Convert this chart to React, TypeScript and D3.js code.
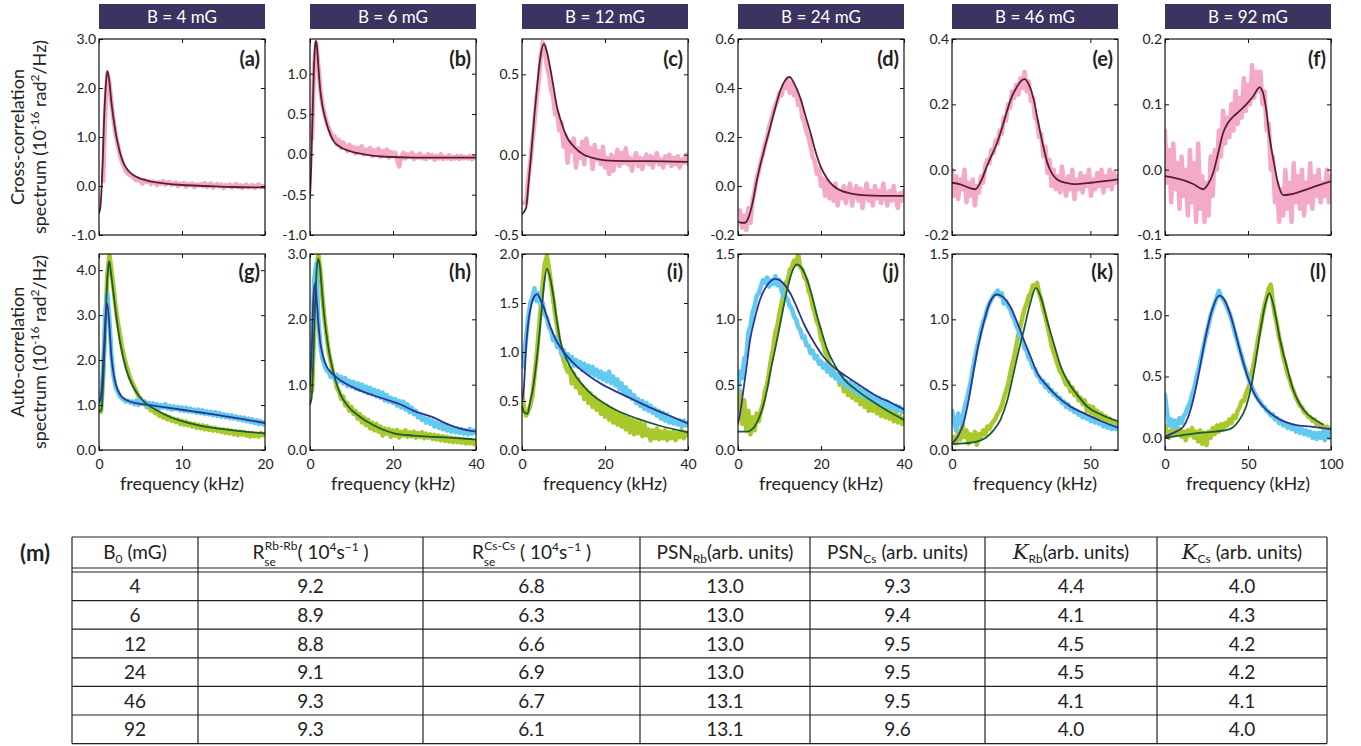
import React, { useEffect, useRef } from 'react';
import * as d3 from 'd3';

// ---- figure data ----
const fieldLabels = ['B = 4 mG', 'B = 6 mG', 'B = 12 mG', 'B = 24 mG', 'B = 46 mG', 'B = 92 mG'];
const crossLetters = ['(a)', '(b)', '(c)', '(d)', '(e)', '(f)'];
const autoLetters = ['(g)', '(h)', '(i)', '(j)', '(k)', '(l)'];
const freqMax = [20, 40, 40, 40, 60, 100];
const freqTicks = [[0, 10, 20], [0, 20, 40], [0, 20, 40], [0, 20, 40], [0, 50], [0, 50, 100]];

const crossDomains = [[-1, 3], [-1, 1.43], [-0.5, 0.72], [-0.2, 0.6], [-0.2, 0.4], [-0.1, 0.2]];
const crossTicks = [
  [-1, 0, 1, 2, 3],
  [-1, -0.5, 0, 0.5, 1],
  [-0.5, 0, 0.5],
  [-0.2, 0, 0.2, 0.4, 0.6],
  [-0.2, 0, 0.2, 0.4],
  [-0.1, 0, 0.1, 0.2],
];
const autoDomains = [[0, 4.36], [0, 3], [0, 2], [0, 1.5], [0, 1.5], [-0.1, 1.5]];
const autoTicks = [
  [0, 1, 2, 3, 4],
  [0, 1, 2, 3],
  [0, 0.5, 1, 1.5, 2],
  [0, 0.5, 1, 1.5],
  [0, 0.5, 1, 1.5],
  [0, 0.5, 1, 1.5],
];

// measured spectra: sampled from x0 in steps of dx
type Sampled = { x0: number; dx: number; ys: number[] };

const crossData: Sampled[] = [
  { x0: 0.5, dx: 0.25, ys: [0.1, 1.5, 2.3, 2.1, 1.7, 1.35, 1.05, 0.85, 0.65, 0.5, 0.4, 0.3, 0.25, 0.22, 0.2, 0.15, 0.12, 0.14, 0.1, 0.05, 0.12, 0.08, 0.1, 0.04, 0.09, 0.07, 0.02, 0.08, 0.05, 0.1, 0.03, 0.06, 0.08, 0.02, 0.05, 0.07, 0.0, 0.05, 0.03, 0.06, -0.01, 0.04, 0.02, 0.05, -0.02, 0.03, 0.01, 0.04, 0.0, 0.06, -0.02, 0.03, 0.05, -0.03, 0.02, 0.04, -0.01, 0.03, -0.04, 0.02, 0.0, 0.03, -0.03, 0.01, 0.04, -0.02, 0.02, -0.04, 0.01, 0.03, -0.03, 0.0, 0.02, -0.04, 0.01, 0.03, -0.02, 0.0, -0.03] },
  { x0: 0.5, dx: 0.5, ys: [0.2, 1.1, 1.38, 1.1, 0.8, 0.62, 0.5, 0.4, 0.33, 0.27, 0.2, 0.22, 0.12, 0.18, 0.08, 0.15, 0.1, 0.04, 0.12, 0.06, 0.09, 0.01, 0.08, 0.05, 0.1, 0.0, 0.06, 0.03, 0.08, -0.02, 0.05, 0.02, 0.07, -0.03, 0.04, 0.0, 0.06, -0.04, 0.03, -0.01, 0.02, -0.07, -0.15, -0.03, 0.02, -0.05, 0.0, -0.03, 0.02, -0.06, -0.01, -0.04, 0.01, -0.05, -0.02, -0.06, 0.0, -0.04, -0.01, -0.07, -0.02, -0.05, 0.0, -0.06, -0.03, -0.05, -0.01, -0.06, -0.03, -0.05, -0.02, -0.06, -0.02, -0.05, -0.03, -0.05, -0.02, -0.06, -0.03, -0.04] },
  { x0: 0.5, dx: 0.5, ys: [-0.3, -0.3, -0.15, -0.05, 0.08, 0.2, 0.35, 0.45, 0.6, 0.7, 0.66, 0.55, 0.5, 0.4, 0.36, 0.25, 0.26, 0.15, 0.2, 0.05, 0.12, -0.05, 0.08, 0.02, 0.1, -0.08, 0.04, -0.02, 0.08, -0.06, 0.1, 0.0, 0.04, -0.09, 0.06, -0.03, 0.02, -0.06, 0.05, -0.08, -0.02, -0.12, 0.0, -0.1, -0.04, 0.03, -0.07, 0.01, -0.05, 0.04, -0.06, -0.02, -0.1, -0.03, 0.01, -0.07, -0.02, -0.09, -0.03, 0.0, -0.06, -0.01, -0.08, -0.02, 0.01, -0.06, -0.03, -0.08, -0.01, -0.05, 0.0, -0.07, -0.02, -0.06, -0.01, -0.08, -0.03, -0.05, 0.0, -0.06] },
  { x0: 0.5, dx: 0.5, ys: [-0.1, -0.17, -0.12, -0.18, -0.09, -0.15, -0.06, -0.02, 0.03, 0.06, 0.1, 0.13, 0.17, 0.2, 0.24, 0.27, 0.3, 0.33, 0.35, 0.38, 0.37, 0.41, 0.4, 0.43, 0.38, 0.42, 0.37, 0.39, 0.33, 0.35, 0.28, 0.26, 0.22, 0.2, 0.16, 0.12, 0.1, 0.05, 0.07, 0.0, 0.03, -0.04, 0.02, -0.05, 0.0, -0.06, 0.01, -0.08, -0.02, -0.05, 0.0, -0.07, -0.02, 0.01, -0.08, -0.03, 0.0, -0.06, -0.01, -0.09, -0.03, 0.01, -0.06, -0.02, -0.08, 0.0, -0.05, -0.02, -0.07, 0.01, -0.04, -0.08, -0.02, -0.06, 0.0, -0.05, -0.09, -0.03, -0.06, -0.02] },
  { x0: 0, dx: 0.75, ys: [0.0, -0.08, -0.02, -0.09, -0.03, -0.06, 0.0, -0.1, -0.04, -0.08, -0.03, -0.11, -0.05, -0.07, -0.02, -0.04, 0.01, 0.03, 0.02, 0.06, 0.05, 0.09, 0.08, 0.12, 0.11, 0.16, 0.15, 0.2, 0.19, 0.24, 0.22, 0.26, 0.23, 0.28, 0.25, 0.3, 0.24, 0.27, 0.21, 0.22, 0.16, 0.15, 0.1, 0.11, 0.04, 0.07, -0.01, 0.03, -0.05, 0.0, -0.06, -0.02, -0.07, 0.01, -0.05, -0.08, -0.02, -0.06, 0.0, -0.09, -0.03, -0.06, -0.01, -0.07, -0.02, -0.05, 0.0, -0.08, -0.03, -0.06, -0.01, -0.05, 0.0, -0.07, -0.02, -0.05, 0.0, -0.06, -0.01, -0.04, -0.02] },
  { x0: 0, dx: 1.25, ys: [0.06, -0.02, 0.03, -0.05, 0.04, -0.03, 0.01, -0.06, 0.02, -0.04, 0.0, -0.07, 0.03, -0.05, 0.01, -0.08, 0.04, -0.06, -0.01, -0.08, -0.02, -0.07, 0.02, -0.04, 0.03, 0.0, 0.06, 0.02, 0.09, 0.04, 0.08, 0.05, 0.1, 0.06, 0.12, 0.07, 0.11, 0.08, 0.14, 0.09, 0.13, 0.1, 0.16, 0.11, 0.15, 0.12, 0.15, 0.1, 0.12, 0.06, 0.07, 0.0, 0.02, -0.05, -0.02, -0.08, -0.03, -0.07, 0.0, -0.06, -0.02, -0.08, 0.01, -0.05, -0.01, -0.06, 0.0, -0.07, -0.02, -0.05, 0.01, -0.06, -0.01, -0.04, 0.0, -0.05, -0.02, -0.04, 0.0, -0.05, -0.01] },
];

const crossFit: [number, number][][] = [
  [[0, -0.55], [0.15, -0.45], [0.3, -0.1], [0.45, 0.5], [0.6, 1.3], [0.8, 2.0], [1.0, 2.35], [1.2, 2.2], [1.5, 1.7], [2.0, 1.1], [2.5, 0.7], [3, 0.45], [3.5, 0.32], [4, 0.24], [5, 0.15], [6, 0.1], [8, 0.05], [10, 0.02], [13, 0], [16, -0.02], [20, -0.03]],
  [[0, -0.54], [0.3, -0.15], [0.6, 0.45], [0.9, 1.0], [1.2, 1.33], [1.45, 1.41], [1.7, 1.32], [2.0, 1.1], [2.4, 0.83], [3.0, 0.6], [3.6, 0.46], [4.5, 0.3], [5.6, 0.17], [7, 0.1], [9.6, 0.04], [13, 0.0], [18, -0.03], [25, -0.04], [40, -0.04]],
  [[0, -0.37], [1, -0.33], [1.5, -0.2], [2.3, 0.03], [3, 0.25], [3.7, 0.44], [4.5, 0.62], [5.3, 0.69], [6, 0.64], [6.8, 0.54], [7.6, 0.42], [8.4, 0.3], [9.5, 0.2], [10.8, 0.11], [12.5, 0.05], [14.9, 0.0], [17, -0.02], [20, -0.035], [25, -0.04], [30, -0.04], [40, -0.045]],
  [[0, -0.146], [1, -0.15], [1.7, -0.15], [2.5, -0.13], [3.5, -0.07], [4.5, 0.02], [5.3, 0.08], [6.5, 0.16], [7.75, 0.24], [9, 0.32], [10.2, 0.39], [11.3, 0.43], [12.4, 0.445], [13.5, 0.42], [15, 0.36], [16.2, 0.29], [17.5, 0.215], [18.7, 0.14], [19.9, 0.08], [21.5, 0.03], [23, 0.0], [25, -0.02], [27, -0.03], [30, -0.037], [35, -0.04], [40, -0.04]],
  [[0, -0.04], [3, -0.045], [6, -0.055], [8.4, -0.06], [10.5, -0.035], [12.6, 0.01], [14.4, 0.045], [16.2, 0.08], [18, 0.125], [19.9, 0.18], [21.7, 0.225], [23.5, 0.254], [25, 0.272], [26.3, 0.277], [27.8, 0.26], [29.6, 0.213], [30.8, 0.16], [32, 0.11], [33.3, 0.06], [34.5, 0.02], [36, -0.01], [38, -0.03], [41, -0.04], [44, -0.044], [50, -0.04], [55, -0.035], [60, -0.03]],
  [[0, -0.01], [5, -0.012], [11, -0.016], [17, -0.022], [23, -0.03], [26, -0.022], [29, -0.005], [32, 0.025], [35, 0.056], [38, 0.072], [41, 0.081], [45, 0.09], [49, 0.1], [53, 0.112], [57, 0.126], [59, 0.118], [61, 0.091], [63, 0.05], [65.3, 0.015], [68, -0.02], [71.3, -0.039], [75, -0.038], [81, -0.034], [90, -0.026], [100, -0.018]],
];

// Rb auto-correlation (green) and Cs auto-correlation (cyan)
const rbData: Sampled[] = [
  { x0: 0.25, dx: 0.25, ys: [0.85, 1.6, 2.8, 3.9, 4.35, 4.0, 3.6, 3.2, 2.85, 2.6, 2.3, 2.1, 1.9, 1.75, 1.6, 1.5, 1.4, 1.3, 1.2, 1.15, 1.05, 1.08, 0.95, 0.98, 0.88, 0.92, 0.82, 0.86, 0.76, 0.8, 0.72, 0.77, 0.68, 0.74, 0.65, 0.7, 0.62, 0.68, 0.58, 0.65, 0.56, 0.63, 0.55, 0.6, 0.52, 0.58, 0.5, 0.56, 0.48, 0.55, 0.46, 0.53, 0.45, 0.5, 0.43, 0.49, 0.42, 0.47, 0.4, 0.46, 0.38, 0.45, 0.37, 0.43, 0.35, 0.42, 0.33, 0.41, 0.34, 0.4, 0.32, 0.38, 0.3, 0.37, 0.31, 0.36, 0.3, 0.38, 0.33, 0.37] },
  { x0: 0.5, dx: 0.5, ys: [0.9, 1.8, 2.7, 3.0, 2.75, 2.35, 2.0, 1.75, 1.5, 1.35, 1.2, 1.1, 0.95, 0.9, 0.78, 0.82, 0.68, 0.72, 0.6, 0.66, 0.55, 0.6, 0.48, 0.55, 0.42, 0.5, 0.38, 0.46, 0.33, 0.42, 0.3, 0.4, 0.28, 0.36, 0.22, 0.33, 0.25, 0.32, 0.2, 0.3, 0.22, 0.31, 0.19, 0.28, 0.22, 0.3, 0.2, 0.27, 0.21, 0.28, 0.19, 0.26, 0.2, 0.27, 0.18, 0.25, 0.19, 0.24, 0.17, 0.23, 0.16, 0.22, 0.15, 0.21, 0.14, 0.2, 0.13, 0.19, 0.12, 0.18, 0.12, 0.17, 0.11, 0.16, 0.1, 0.15, 0.1, 0.14, 0.09, 0.13] },
  { x0: 0, dx: 0.5, ys: [0.6, 0.42, 0.35, 0.4, 0.45, 0.55, 0.75, 0.95, 1.2, 1.45, 1.7, 1.9, 1.98, 1.85, 1.7, 1.55, 1.38, 1.25, 1.1, 1.0, 0.92, 0.85, 0.8, 0.84, 0.68, 0.78, 0.64, 0.72, 0.58, 0.66, 0.52, 0.61, 0.48, 0.58, 0.44, 0.54, 0.41, 0.5, 0.37, 0.47, 0.34, 0.45, 0.31, 0.42, 0.28, 0.39, 0.26, 0.37, 0.24, 0.35, 0.21, 0.33, 0.18, 0.31, 0.16, 0.29, 0.17, 0.28, 0.14, 0.26, 0.15, 0.21, 0.1, 0.2, 0.12, 0.22, 0.11, 0.19, 0.12, 0.2, 0.1, 0.18, 0.12, 0.19, 0.1, 0.17, 0.13, 0.2, 0.12, 0.18, 0.15] },
  { x0: 0, dx: 0.5, ys: [0.3, 0.45, 0.2, 0.38, 0.15, 0.3, 0.12, 0.25, 0.15, 0.28, 0.22, 0.3, 0.35, 0.45, 0.5, 0.6, 0.7, 0.78, 0.9, 0.95, 1.05, 1.12, 1.2, 1.28, 1.3, 1.38, 1.4, 1.45, 1.42, 1.5, 1.4, 1.38, 1.32, 1.3, 1.22, 1.18, 1.1, 1.05, 0.98, 0.95, 0.85, 0.82, 0.75, 0.72, 0.66, 0.62, 0.6, 0.55, 0.58, 0.5, 0.55, 0.45, 0.52, 0.42, 0.5, 0.4, 0.46, 0.38, 0.44, 0.35, 0.42, 0.33, 0.4, 0.3, 0.38, 0.3, 0.36, 0.28, 0.34, 0.26, 0.33, 0.25, 0.31, 0.24, 0.29, 0.22, 0.28, 0.21, 0.26, 0.2, 0.24] },
  { x0: 0, dx: 0.75, ys: [0.05, 0.1, 0.05, 0.15, 0.08, 0.2, 0.1, 0.15, 0.05, 0.12, 0.08, 0.14, 0.04, 0.12, 0.1, 0.15, 0.12, 0.18, 0.16, 0.2, 0.22, 0.24, 0.28, 0.3, 0.34, 0.4, 0.45, 0.5, 0.58, 0.65, 0.72, 0.8, 0.88, 0.95, 1.02, 1.08, 1.12, 1.18, 1.2, 1.26, 1.25, 1.28, 1.2, 1.15, 1.08, 1.02, 0.95, 0.88, 0.8, 0.75, 0.7, 0.65, 0.6, 0.58, 0.54, 0.5, 0.52, 0.45, 0.48, 0.42, 0.44, 0.38, 0.4, 0.35, 0.38, 0.3, 0.34, 0.28, 0.33, 0.26, 0.3, 0.24, 0.28, 0.22, 0.26, 0.2, 0.24, 0.18, 0.22, 0.18, 0.2] },
  { x0: 0, dx: 1.25, ys: [0.1, 0.05, 0.0, 0.06, 0.02, 0.08, 0.03, 0.07, 0.01, 0.05, -0.02, 0.06, 0.02, 0.08, 0.0, 0.05, -0.03, 0.06, -0.05, 0.04, -0.06, 0.05, 0.0, 0.08, 0.03, 0.1, 0.05, 0.11, 0.07, 0.12, 0.1, 0.15, 0.12, 0.18, 0.16, 0.22, 0.25, 0.3, 0.3, 0.36, 0.4, 0.45, 0.55, 0.62, 0.72, 0.82, 0.9, 1.0, 1.08, 1.15, 1.22, 1.25, 1.1, 1.0, 0.92, 0.82, 0.75, 0.66, 0.6, 0.52, 0.48, 0.42, 0.38, 0.33, 0.3, 0.26, 0.25, 0.21, 0.2, 0.17, 0.17, 0.14, 0.15, 0.11, 0.12, 0.09, 0.1, 0.07, 0.09, 0.06, 0.08] },
];

const csData: Sampled[] = [
  { x0: 0.25, dx: 0.25, ys: [1.05, 1.8, 3.0, 3.5, 2.9, 2.1, 1.65, 1.4, 1.3, 1.2, 1.15, 1.12, 1.08, 1.1, 1.05, 1.08, 1.02, 1.1, 1.0, 1.15, 1.02, 1.06, 0.98, 1.05, 0.97, 1.04, 0.95, 1.02, 0.93, 1.0, 0.94, 1.02, 0.92, 0.98, 0.9, 0.97, 0.91, 0.96, 0.88, 0.95, 0.87, 0.94, 0.86, 0.92, 0.85, 0.9, 0.83, 0.9, 0.82, 0.88, 0.8, 0.86, 0.79, 0.85, 0.77, 0.84, 0.76, 0.82, 0.74, 0.8, 0.73, 0.78, 0.71, 0.77, 0.7, 0.75, 0.68, 0.73, 0.66, 0.72, 0.64, 0.7, 0.62, 0.68, 0.6, 0.66, 0.58, 0.64, 0.57, 0.62] },
  { x0: 0.5, dx: 0.5, ys: [1.3, 2.6, 2.85, 2.0, 1.6, 1.4, 1.3, 1.22, 1.2, 1.12, 1.18, 1.08, 1.15, 1.05, 1.12, 1.02, 1.1, 0.98, 1.06, 0.97, 1.04, 0.94, 1.02, 0.92, 1.0, 0.9, 0.97, 0.87, 0.95, 0.85, 0.92, 0.82, 0.9, 0.8, 0.88, 0.76, 0.84, 0.74, 0.8, 0.72, 0.78, 0.68, 0.75, 0.65, 0.74, 0.62, 0.7, 0.58, 0.65, 0.55, 0.6, 0.5, 0.55, 0.46, 0.5, 0.42, 0.48, 0.4, 0.45, 0.36, 0.42, 0.34, 0.4, 0.32, 0.38, 0.3, 0.36, 0.28, 0.34, 0.27, 0.33, 0.26, 0.32, 0.25, 0.3, 0.24, 0.32, 0.25, 0.3, 0.26] },
  { x0: 0, dx: 0.5, ys: [0.85, 0.95, 1.15, 1.35, 1.5, 1.55, 1.65, 1.52, 1.6, 1.48, 1.5, 1.38, 1.35, 1.25, 1.22, 1.12, 1.15, 1.05, 1.1, 0.98, 1.02, 0.93, 0.98, 0.9, 0.95, 0.86, 0.92, 0.85, 0.9, 0.82, 0.88, 0.8, 0.86, 0.78, 0.85, 0.76, 0.82, 0.74, 0.8, 0.72, 0.78, 0.7, 0.8, 0.68, 0.75, 0.66, 0.72, 0.62, 0.68, 0.58, 0.64, 0.55, 0.6, 0.52, 0.56, 0.48, 0.52, 0.45, 0.5, 0.42, 0.48, 0.4, 0.45, 0.38, 0.42, 0.35, 0.4, 0.32, 0.38, 0.3, 0.36, 0.28, 0.33, 0.27, 0.31, 0.26, 0.3, 0.24, 0.3, 0.25, 0.28] },
  { x0: 0, dx: 0.5, ys: [0.45, 0.6, 0.55, 0.7, 0.72, 0.9, 0.95, 1.05, 1.1, 1.18, 1.2, 1.25, 1.3, 1.28, 1.32, 1.25, 1.3, 1.27, 1.33, 1.26, 1.3, 1.22, 1.18, 1.17, 1.15, 1.1, 1.08, 1.02, 1.0, 0.94, 0.92, 0.86, 0.87, 0.8, 0.8, 0.74, 0.76, 0.7, 0.72, 0.66, 0.68, 0.63, 0.66, 0.6, 0.63, 0.57, 0.6, 0.55, 0.58, 0.52, 0.56, 0.5, 0.53, 0.48, 0.52, 0.46, 0.5, 0.44, 0.48, 0.42, 0.46, 0.41, 0.45, 0.39, 0.43, 0.37, 0.41, 0.36, 0.4, 0.34, 0.38, 0.33, 0.37, 0.32, 0.35, 0.31, 0.34, 0.3, 0.33, 0.29, 0.31] },
  { x0: 0, dx: 0.75, ys: [0.3, 0.22, 0.15, 0.28, 0.2, 0.25, 0.32, 0.38, 0.45, 0.52, 0.62, 0.7, 0.78, 0.85, 0.92, 0.98, 1.02, 1.08, 1.12, 1.15, 1.18, 1.2, 1.22, 1.18, 1.2, 1.12, 1.14, 1.1, 1.08, 1.03, 1.0, 0.95, 0.92, 0.86, 0.84, 0.78, 0.76, 0.7, 0.68, 0.63, 0.62, 0.57, 0.56, 0.52, 0.53, 0.48, 0.5, 0.45, 0.46, 0.42, 0.43, 0.39, 0.4, 0.36, 0.37, 0.33, 0.35, 0.31, 0.32, 0.29, 0.3, 0.27, 0.28, 0.25, 0.27, 0.24, 0.25, 0.22, 0.24, 0.21, 0.22, 0.2, 0.21, 0.18, 0.2, 0.17, 0.19, 0.16, 0.18, 0.16, 0.18] },
  { x0: 0, dx: 1.25, ys: [0.35, 0.2, 0.1, 0.15, 0.08, 0.14, 0.1, 0.16, 0.12, 0.18, 0.2, 0.25, 0.28, 0.35, 0.4, 0.48, 0.55, 0.62, 0.7, 0.78, 0.85, 0.92, 1.0, 1.05, 1.1, 1.15, 1.2, 1.15, 1.13, 1.1, 1.06, 1.02, 0.97, 0.9, 0.84, 0.78, 0.72, 0.66, 0.6, 0.55, 0.5, 0.45, 0.41, 0.37, 0.34, 0.31, 0.29, 0.26, 0.25, 0.22, 0.21, 0.18, 0.19, 0.15, 0.16, 0.12, 0.14, 0.1, 0.12, 0.08, 0.11, 0.07, 0.1, 0.05, 0.08, 0.04, 0.07, 0.03, 0.06, 0.02, 0.05, 0.0, 0.04, -0.01, 0.04, 0.0, 0.05, -0.02, 0.06, 0.0, 0.04] },
];

const rbFit: [number, number][][] = [
  [[0, 0.85], [0.3, 0.9], [0.5, 1.5], [0.72, 2.44], [0.9, 3.4], [1.1, 4.05], [1.24, 4.2], [1.4, 4.0], [1.7, 3.55], [2.1, 2.95], [2.5, 2.44], [3.3, 1.78], [4.0, 1.45], [4.9, 1.18], [5.9, 1.0], [6.9, 0.89], [8.5, 0.74], [10.2, 0.63], [12, 0.55], [14.2, 0.48], [17, 0.42], [20, 0.37]],
  [[0, 0.7], [0.4, 0.8], [0.8, 1.4], [1.2, 2.2], [1.6, 2.75], [2.0, 2.93], [2.4, 2.8], [2.8, 2.5], [3.2, 2.2], [4.0, 1.75], [4.8, 1.43], [6, 1.1], [7.2, 0.87], [9, 0.68], [12, 0.51], [15, 0.39], [20, 0.26], [25, 0.22], [30, 0.2], [36, 0.18], [40, 0.16]],
  [[0, 0.45], [0.6, 0.38], [1.3, 0.37], [2, 0.5], [2.6, 0.62], [3.15, 0.78], [4, 1.1], [4.8, 1.46], [5.4, 1.72], [6.0, 1.85], [6.8, 1.75], [7.6, 1.56], [8.4, 1.32], [9.2, 1.12], [10.3, 0.97], [11.6, 0.85], [13, 0.75], [14.9, 0.65], [17, 0.56], [19.7, 0.48], [23, 0.4], [27.8, 0.32], [33, 0.25], [40, 0.18]],
  [[0, 0.14], [2, 0.14], [3, 0.15], [4, 0.18], [5, 0.24], [6, 0.33], [7, 0.46], [7.75, 0.59], [9, 0.78], [10.2, 0.97], [11, 1.1], [11.8, 1.22], [13, 1.36], [14.2, 1.42], [15.4, 1.39], [16.7, 1.3], [18, 1.16], [19.1, 1.02], [20.3, 0.89], [21.5, 0.77], [23.5, 0.64], [25.6, 0.54], [28.5, 0.46], [32, 0.38], [36, 0.3], [40, 0.23]],
  [[0, 0.045], [4, 0.05], [8, 0.06], [12.6, 0.1], [15, 0.15], [17.5, 0.23], [20, 0.38], [22.3, 0.59], [24, 0.75], [26, 0.92], [28, 1.1], [30.4, 1.24], [32.4, 1.15], [34.4, 0.99], [37, 0.8], [39.3, 0.64], [42, 0.52], [45, 0.43], [49, 0.33], [54, 0.27], [60, 0.22]],
  [[0, 0.0], [10, 0.02], [21, 0.04], [30, 0.05], [39, 0.07], [44, 0.13], [49, 0.26], [52, 0.42], [55, 0.66], [58, 0.92], [61, 1.12], [62.8, 1.18], [65, 1.1], [67, 0.97], [69.3, 0.8], [73, 0.6], [77.3, 0.39], [81, 0.28], [85.3, 0.2], [90, 0.15], [95, 0.11]],
];

const csFit: [number, number][][] = [
  [[0, 1.04], [0.3, 1.3], [0.6, 2.3], [0.85, 3.1], [1.0, 3.26], [1.2, 2.9], [1.5, 2.07], [1.8, 1.65], [2.1, 1.41], [2.6, 1.22], [3.3, 1.11], [4.5, 1.04], [6.1, 1.0], [8, 0.95], [10.2, 0.89], [12, 0.84], [14.2, 0.78], [17, 0.7], [20, 0.6]],
  [[0, 1.02], [0.4, 1.5], [0.8, 2.3], [1.2, 2.55], [1.6, 2.3], [2.0, 1.95], [2.4, 1.68], [3.2, 1.42], [4.0, 1.28], [5.5, 1.16], [7.2, 1.07], [10, 0.97], [13.7, 0.87], [17, 0.8], [21.7, 0.7], [25, 0.6], [29.7, 0.5], [33, 0.4], [36, 0.33], [40, 0.28]],
  [[0, 0.5], [0.4, 0.6], [0.8, 0.9], [1.1, 1.12], [1.6, 1.33], [2.35, 1.5], [3, 1.57], [3.7, 1.59], [4.4, 1.54], [5.2, 1.46], [6, 1.36], [6.8, 1.26], [8, 1.14], [9.2, 1.05], [11, 0.95], [13.3, 0.85], [16, 0.76], [18.9, 0.68], [23, 0.59], [27, 0.51], [31, 0.43], [35, 0.36], [40, 0.27]],
  [[0, 0.2], [0.6, 0.3], [1.3, 0.46], [2, 0.62], [2.9, 0.84], [4, 1.0], [5.3, 1.15], [7, 1.26], [9, 1.31], [10.8, 1.28], [12.6, 1.2], [14.2, 1.09], [15.8, 0.97], [18, 0.84], [20.7, 0.71], [24, 0.61], [27.2, 0.54], [30.5, 0.47], [33.6, 0.41], [37, 0.36], [40, 0.31]],
  [[0, 0.05], [2, 0.1], [4.1, 0.2], [6, 0.38], [7.7, 0.59], [9.5, 0.8], [11.4, 0.97], [13.5, 1.12], [16.2, 1.19], [18.5, 1.17], [21, 1.1], [23.5, 0.98], [26, 0.84], [28.5, 0.71], [30.8, 0.59], [34, 0.5], [38, 0.41], [43, 0.33], [47.8, 0.28], [54, 0.22], [60, 0.17]],
  [[0, 0.01], [5, 0.04], [11, 0.09], [14, 0.17], [17, 0.31], [20, 0.5], [23, 0.72], [26, 0.92], [29, 1.07], [32.7, 1.16], [36, 1.12], [38.5, 1.04], [41, 0.93], [45, 0.72], [49, 0.53], [53, 0.38], [57, 0.29], [61, 0.23], [69, 0.15], [77, 0.11], [88, 0.09], [100, 0.07]],
];

// table (m)
const tableB0 = ['4', '6', '12', '24', '46', '92'];
const tableRseRb = ['9.2', '8.9', '8.8', '9.1', '9.3', '9.3'];
const tableRseCs = ['6.8', '6.3', '6.6', '6.9', '6.7', '6.1'];
const tablePsnRb = ['13.0', '13.0', '13.0', '13.0', '13.1', '13.1'];
const tablePsnCs = ['9.3', '9.4', '9.5', '9.5', '9.5', '9.6'];
const tableKRb = ['4.4', '4.1', '4.5', '4.5', '4.1', '4.0'];
const tableKCs = ['4.0', '4.3', '4.2', '4.2', '4.1', '4.0'];

// header segments; `lift` is the baseline offset of a sub/superscript
type Seg = { t: string; k?: 'sub' | 'sup' | 'it'; dx?: number; lift?: number };
const tableHeaders: Seg[][] = [
  [{ t: 'B' }, { t: '0', k: 'sub' }, { t: ' (mG)' }],
  [{ t: 'R' }, { t: 'se', k: 'sub', lift: 7 }, { t: 'Rb-Rb', k: 'sup', dx: -11, lift: -9 }, { t: '( 10' }, { t: '4', k: 'sup' }, { t: 's' }, { t: '\u22121', k: 'sup' }, { t: ' )' }],
  [{ t: 'R' }, { t: 'se', k: 'sub', lift: 7 }, { t: 'Cs-Cs', k: 'sup', dx: -11, lift: -9 }, { t: ' ( 10' }, { t: '4', k: 'sup' }, { t: 's' }, { t: '\u22121', k: 'sup' }, { t: ' )' }],
  [{ t: 'PSN' }, { t: 'Rb', k: 'sub' }, { t: '(arb. units)' }],
  [{ t: 'PSN' }, { t: 'Cs', k: 'sub' }, { t: ' (arb. units)' }],
  [{ t: 'K', k: 'it' }, { t: 'Rb', k: 'sub' }, { t: '(arb. units)' }],
  [{ t: 'K', k: 'it' }, { t: 'Cs', k: 'sub' }, { t: ' (arb. units)' }],
];

// ---- layout ----
const W = 1361;
const H = 746;
const FONT = 'Lato, "Open Sans", sans-serif';
const PANEL_LEFT = [99, 310, 522, 738, 952, 1165];
const PANEL_W = 166;
const TOP_ROW = [39, 235];
const BOTTOM_ROW = [254, 450];
const TABLE_COLS = [72, 198, 423, 640, 810, 985, 1157, 1327];

const COLORS = {
  header: '#3c3361',
  pink: '#f4a9c9',
  maroon: '#5a1f2d',
  green: '#a8c82c',
  greenFit: '#1f5a2f',
  cyan: '#62c9f0',
  blueFit: '#2c3590',
};

const toPoints = (s: Sampled): [number, number][] => s.ys.map((v, i) => [s.x0 + i * s.dx, v]);

type Layer = { points: [number, number][]; color: string; width: number; smooth: boolean };

function drawPanel(svg: any, id: string, left: number, row: number[], xMax: number, xTicks: number[],
  yDomain: number[], yTicks: number[], showX: boolean, letter: string, letterDy: number, layers: Layer[]) {
  const [top, bottom] = row;
  const x = d3.scaleLinear().domain([0, xMax]).range([left, left + PANEL_W]);
  const y = d3.scaleLinear().domain(yDomain).range([bottom, top]);

  svg.append('clipPath').attr('id', id)
    .append('rect').attr('x', left).attr('y', top).attr('width', PANEL_W).attr('height', bottom - top);
  const plot = svg.append('g').attr('clip-path', `url(#${id})`);

  layers.forEach((l) => {
    const line = d3.line<[number, number]>()
      .x((d) => x(d[0]))
      .y((d) => y(d[1]))
      .curve(l.smooth ? d3.curveMonotoneX : d3.curveLinear);
    plot.append('path')
      .datum(l.points)
      .attr('d', line)
      .attr('fill', 'none')
      .attr('stroke', l.color)
      .attr('stroke-width', l.width)
      .attr('stroke-linejoin', 'round')
      .attr('stroke-linecap', 'round');
  });

  const styleAxis = (g: any) => {
    g.select('.domain').remove();
    g.attr('font-family', FONT).attr('font-size', 14);
    g.selectAll('line').attr('stroke', '#111');
    g.selectAll('text').attr('fill', '#222');
  };

  svg.append('g').attr('transform', `translate(${left},0)`)
    .call(d3.axisLeft(y).tickValues(yTicks).tickSizeInner(-4).tickSizeOuter(0).tickPadding(3)
      .tickFormat((v: any) => (+v).toFixed(1)))
    .call(styleAxis);
  svg.append('g').attr('transform', `translate(${left + PANEL_W},0)`)
    .call(d3.axisRight(y).tickValues(yTicks).tickSizeInner(-4).tickSizeOuter(0).tickFormat(() => ''))
    .call(styleAxis);
  svg.append('g').attr('transform', `translate(0,${bottom})`)
    .call(d3.axisBottom(x).tickValues(xTicks).tickSizeInner(-4).tickSizeOuter(0).tickPadding(9)
      .tickFormat((v: any) => (showX ? String(v) : '')))
    .call(styleAxis);
  svg.append('g').attr('transform', `translate(0,${top})`)
    .call(d3.axisTop(x).tickValues(xTicks).tickSizeInner(-4).tickSizeOuter(0).tickFormat(() => ''))
    .call(styleAxis);

  svg.append('rect')
    .attr('x', left).attr('y', top).attr('width', PANEL_W).attr('height', bottom - top)
    .attr('fill', 'none').attr('stroke', '#111').attr('stroke-width', 1.2);

  svg.append('text')
    .attr('x', left + PANEL_W - 5).attr('y', top + letterDy)
    .attr('text-anchor', 'end')
    .attr('font-family', FONT).attr('font-size', 20).attr('font-weight', 700).attr('fill', '#222')
    .text(letter);

  if (showX) {
    svg.append('text')
      .attr('x', left + PANEL_W / 2).attr('y', 490)
      .attr('text-anchor', 'middle')
      .attr('font-family', FONT).attr('font-size', 18).attr('fill', '#222')
      .text('frequency (kHz)');
  }
}

function yTitle(svg: any, first: string, cy: number) {
  svg.append('text')
    .attr('transform', `translate(24,${cy}) rotate(-90)`)
    .attr('text-anchor', 'middle')
    .attr('font-family', FONT).attr('font-size', 18).attr('fill', '#222')
    .text(first);
  const t = svg.append('text')
    .attr('transform', `translate(46,${cy}) rotate(-90)`)
    .attr('text-anchor', 'middle')
    .attr('font-family', FONT).attr('font-size', 18).attr('fill', '#222');
  t.append('tspan').text('spectrum (10');
  t.append('tspan').attr('dy', -7).attr('font-size', 12).text('-16');
  t.append('tspan').attr('dy', 7).text(' rad');
  t.append('tspan').attr('dy', -7).attr('font-size', 12).text('2');
  t.append('tspan').attr('dy', 7).text('/Hz)');
}

function richText(sel: any, segs: Seg[]) {
  let shift = 0;
  segs.forEach((s) => {
    const target = s.lift ?? (s.k === 'sub' ? 4 : s.k === 'sup' ? -8 : 0);
    const sp = sel.append('tspan').attr('dy', target - shift).text(s.t);
    if (s.dx) sp.attr('dx', s.dx);
    if (s.k === 'sub' || s.k === 'sup') sp.attr('font-size', 12);
    if (s.k === 'it') sp.attr('font-style', 'italic').attr('font-family', '"DejaVu Serif", serif').attr('font-size', 21);
    shift = target;
  });
}

export default function App() {
  const svgRef = useRef<SVGSVGElement>(null);

  useEffect(() => {
    const svg = d3.select(svgRef.current);
    svg.selectAll('*').remove();

    yTitle(svg, 'Cross-correlation', 137);
    yTitle(svg, 'Auto-correlation', 352);

    fieldLabels.forEach((label, i) => {
      const left = PANEL_LEFT[i];
      svg.append('rect').attr('x', left).attr('y', 4).attr('width', PANEL_W).attr('height', 25).attr('fill', COLORS.header);
      svg.append('text')
        .attr('x', left + PANEL_W / 2).attr('y', 23)
        .attr('text-anchor', 'middle')
        .attr('font-family', FONT).attr('font-size', 17).attr('fill', '#fff')
        .text(label);

      drawPanel(svg, `cross-${i}`, left, TOP_ROW, freqMax[i], freqTicks[i], crossDomains[i], crossTicks[i], false,
        crossLetters[i], 27, [
          { points: toPoints(crossData[i]), color: COLORS.pink, width: 4.5, smooth: false },
          { points: crossFit[i], color: COLORS.maroon, width: 1.8, smooth: true },
        ]);

      drawPanel(svg, `auto-${i}`, left, BOTTOM_ROW, freqMax[i], freqTicks[i], autoDomains[i], autoTicks[i], true,
        autoLetters[i], 25, [
          { points: toPoints(rbData[i]), color: COLORS.green, width: 4.5, smooth: false },
          { points: toPoints(csData[i]), color: COLORS.cyan, width: 4.5, smooth: false },
          { points: rbFit[i], color: COLORS.greenFit, width: 1.8, smooth: true },
          { points: csFit[i], color: COLORS.blueFit, width: 1.8, smooth: true },
        ]);
    });

    // ---- table (m) ----
    const tableTop = 537;
    const headBottom = 568;
    const bodyTop = 572;
    const rowH = 28.6;
    const columns = [tableB0, tableRseRb, tableRseCs, tablePsnRb, tablePsnCs, tableKRb, tableKCs];
    const tableBottom = bodyTop + rowH * tableB0.length;
    const tg = svg.append('g').attr('font-family', FONT).attr('fill', '#222');

    tg.append('text').attr('x', 20).attr('y', 561).attr('font-size', 22).attr('font-weight', 700).text('(m)');

    const hLines = [tableTop, headBottom, bodyTop, ...tableB0.map((_, r) => bodyTop + rowH * (r + 1))];
    hLines.forEach((yy) => {
      tg.append('line').attr('x1', TABLE_COLS[0]).attr('x2', TABLE_COLS[TABLE_COLS.length - 1])
        .attr('y1', yy).attr('y2', yy).attr('stroke', '#222').attr('stroke-width', 1.2);
    });
    TABLE_COLS.forEach((xx) => {
      tg.append('line').attr('x1', xx).attr('x2', xx).attr('y1', tableTop).attr('y2', tableBottom)
        .attr('stroke', '#222').attr('stroke-width', 1.2);
    });

    tableHeaders.forEach((segs, c) => {
      const cx = (TABLE_COLS[c] + TABLE_COLS[c + 1]) / 2;
      const t = tg.append('text').attr('x', cx).attr('y', 559).attr('text-anchor', 'middle').attr('font-size', 19);
      richText(t, segs);
    });

    columns.forEach((vals, c) => {
      const cx = (TABLE_COLS[c] + TABLE_COLS[c + 1]) / 2;
      vals.forEach((v, r) => {
        tg.append('text')
          .attr('x', cx).attr('y', bodyTop + rowH * r + rowH / 2 + 7)
          .attr('text-anchor', 'middle').attr('font-size', 19)
          .text(v);
      });
    });
  }, []);

  return (
    <div style={{ position: 'absolute', left: 0, top: 0 }}>
      <svg ref={svgRef} width={W} height={H} style={{ display: 'block', background: '#fff' }} />
    </div>
  );
}
